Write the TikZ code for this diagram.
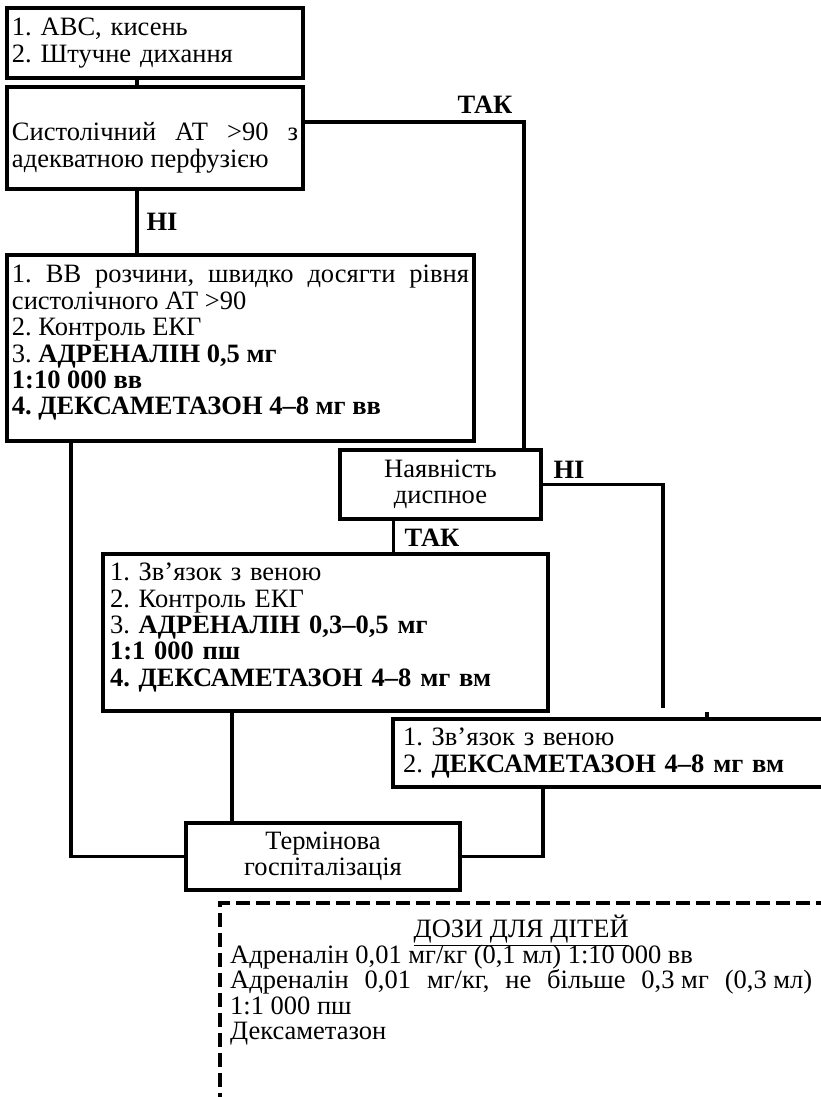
\documentclass[tikz,border=0pt]{standalone}
\usepackage{fontspec}
\setmainfont{Liberation Serif}
\usetikzlibrary{positioning}
\frenchspacing
\begin{document}
\begin{tikzpicture}[x=1pt,y=-1pt,
  blok/.style={draw, line width=3.5pt, outer sep=0pt, inner xsep=5pt, inner ysep=0pt,
    anchor=north west, font=\fontsize{26.5}{26.4}\selectfont},
  napys/.style={inner sep=0pt, font=\fontsize{26.5}{26.4}\selectfont\bfseries},
  zv/.style={line width=3.5pt}]
\useasboundingbox (0,0) rectangle (820,1097);

\node[blok, text width=286pt, minimum height=70pt, align=left] (abc) at (7,8)
  {1. АВС, кисень\\2. Штучне дихання};
\node[blok, text width=286pt, minimum height=102pt, align=justify] (sad) at (7,87)
  {\rule{0pt}{38pt}Систолічний АТ >90 з\linebreak адекватною перфузією};
\node[blok, text width=457pt, minimum height=186pt, align=justify] (vv) at (7,255)
  {1. ВВ розчини, швидко досягти рівня\linebreak систолічного АТ >90\\2. Контроль ЕКГ\\3. \textbf{АДРЕНАЛІН 0,5 мг}\\\textbf{1:10 000 вв}\\\textbf{4. ДЕКСАМЕТАЗОН 4–8 мг вв}\vspace*{10pt}};
\node[blok, text width=191pt, minimum height=69pt, align=center] (disp) at (340,450)
  {Наявність\\диспное};
\node[blok, inner xsep=7pt, text width=431pt, minimum height=157pt, align=left] (zvjaz) at (103,554)
  {1. Зв’язок з веною\\2. Контроль ЕКГ\\3. \textbf{АДРЕНАЛІН 0,3–0,5 мг}\\\textbf{1:1 000 пш}\\\textbf{4. ДЕКСАМЕТАЗОН 4–8 мг вм}\vspace*{10pt}};
\node[blok, inner xsep=10pt, text width=437pt, minimum height=68pt, align=left] (dex) at (393,719)
  {1. Зв’язок з веною\\2. \textbf{ДЕКСАМЕТАЗОН 4–8 мг вм}};
\node[blok, text width=264pt, minimum height=67pt, align=center] (hosp) at (186,823)
  {Термінова\\госпіталізація};

\node[napys] (tak1) at (485,105) {ТАК};
\node[napys] (ni1) at (162,222) {НІ};
\node[napys] (ni2) at (569,470) {НІ};
\node[napys] (tak2) at (432,538) {ТАК};

\draw[zv] ([xshift=130pt]abc.south west) -- ([xshift=130pt]sad.north west);
\draw[zv] ([xshift=130pt]sad.south west) -- ([xshift=130pt]vv.north west);
\draw[zv] ([yshift=16pt]sad.east) -| ([xshift=-17pt]disp.north east);

\coordinate (n1) at (663,708);
\coordinate (n2) at (707,712);
\draw[zv] (disp.east) -| (n1);
\draw[zv] (n2) -- (n2 |- dex.north);
\coordinate (k2) at ([xshift=-47pt]disp.south);
\draw[zv] (k2) -- (k2 |- zvjaz.north);

\draw[zv] ([xshift=64pt]vv.south west) |- (hosp.west);
\draw[zv] ([xshift=129pt]zvjaz.south west) -- ([xshift=46pt]hosp.north west);
\draw[zv] ([xshift=150pt]dex.south west) |- (hosp.east);

% dozy dlja ditej
\draw[zv, dash pattern=on 14pt off 6pt] (850,903) -| (220,1120);
\node[anchor=north west, inner sep=0pt, text width=582pt, align=justify,
  font=\fontsize{26.5}{25.5}\selectfont] (dozy) at (230,915)
  {\makebox[\linewidth]{\raisebox{0pt}[\height][0pt]{\underline{ДОЗИ ДЛЯ ДІТЕЙ}}}\\
   Адреналін 0,01 мг/кг (0,1 мл) 1:10 000 вв\\
   Адреналін 0,01 мг/кг, не більше \hbox{0,3 мг} \hbox{(0,3 мл)}\linebreak 1:1 000 пш\\
   Дексаметазон};
\end{tikzpicture}
\end{document}
